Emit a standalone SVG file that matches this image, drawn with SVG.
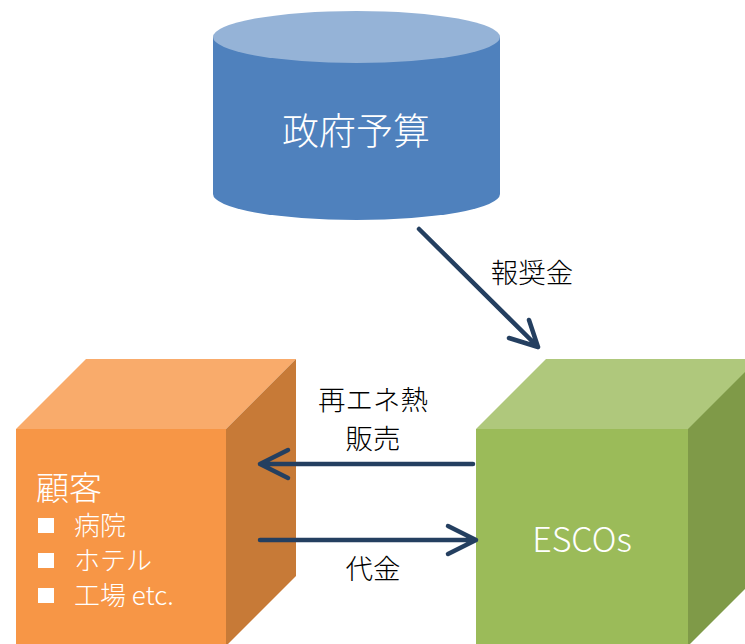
<svg xmlns="http://www.w3.org/2000/svg" width="745" height="644" viewBox="0 0 745 644">
<defs>
<style>
.lbl{font-family:"Noto Sans CJK JP","Noto Sans",sans-serif;fill:#000;font-size:27.5px;font-weight:300;}
.wt{font-family:"Noto Sans CJK JP","Noto Sans",sans-serif;fill:#fff;font-weight:300;}
.conn{stroke:#243F60;stroke-width:4.5;fill:none;stroke-linecap:round;stroke-linejoin:round;}
</style>
</defs>
<rect width="745" height="644" fill="#fff"/>
<g id="budget">
<path d="M213,37 L213,194 A143.5,26 0 0 0 500,194 L500,37 Z" fill="#4F81BD"/>
<ellipse cx="356.5" cy="37" rx="143.5" ry="26" fill="#95B3D7"/>
<text class="wt" x="356" y="145" font-size="37" text-anchor="middle">政府予算</text>
</g>
<g id="customer">
<polygon points="16,429 86,359 296,359 226,429" fill="#F9AB6B"/>
<polygon points="226,429 296,359 296,576 226,646" fill="#C77A37"/>
<rect x="16" y="429" width="210" height="220" fill="#F79646"/>
<text class="wt" x="36" y="500" font-size="33">顧客</text>
<rect x="38" y="518" width="16" height="15" fill="#fff"/>
<rect x="38" y="553" width="16" height="15" fill="#fff"/>
<rect x="38" y="588" width="16" height="15" fill="#fff"/>
<text class="wt" x="74" y="535" font-size="26">病院</text>
<text class="wt" x="74" y="570" font-size="26">ホテル</text>
<text class="wt" x="74" y="605" font-size="26">工場 etc.</text>
</g>
<g id="escos">
<polygon points="476,429 546,359 760,359 690,429" fill="#AFC87C"/>
<polygon points="688,429 758,359 758,576 688,646" fill="#7F9A48"/>
<rect x="476" y="429" width="212" height="220" fill="#9BBB59"/>
<text class="wt" x="582" y="552" font-size="34" text-anchor="middle">ESCOs</text>
</g>
<g id="connectors">
<path class="conn" d="M419,229 L538,347 M529,320 L538,347 L509,338"/>
<path class="conn" d="M473,464 L260,464 M288,450 L260,464 L288,478"/>
<path class="conn" d="M260,540 L476,540 M448,526 L476,540 L448,554"/>
</g>
<g id="labels">
<text class="lbl" x="532" y="283" text-anchor="middle">報奨金</text>
<text class="lbl" x="373" y="410" font-size="27" text-anchor="middle">再エネ熱</text>
<text class="lbl" x="373" y="449" font-size="27" text-anchor="middle">販売</text>
<text class="lbl" x="373" y="579" text-anchor="middle">代金</text>
</g>
</svg>
